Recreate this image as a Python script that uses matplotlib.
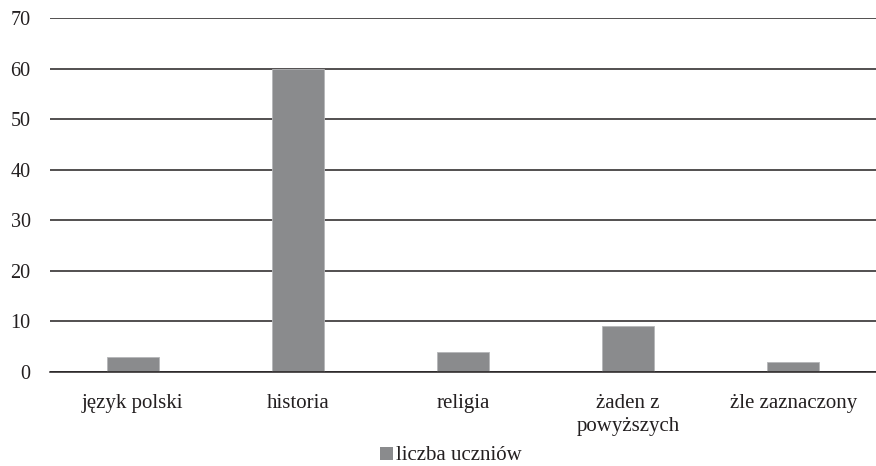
import matplotlib
matplotlib.use("Agg")
import matplotlib.pyplot as plt
from matplotlib.patches import Patch

categories = ["język polski", "historia", "religia", "żaden z\npowyższych", "żle zaznaczony"]
values = [3, 60, 4, 9, 2]
series_name = "liczba uczniów"
yticks = [0, 10, 20, 30, 40, 50, 60, 70]

plt.rcParams["font.family"] = ["Liberation Serif", "DejaVu Serif"]

fig = plt.figure(figsize=(8.76, 4.66), dpi=100)
ax = fig.add_axes([50 / 876, 1 - 372 / 466, 826 / 876, 354 / 466])

bar_color = "#8a8b8d"
x = list(range(len(categories)))
ax.bar(x, values, width=0.315, color=bar_color, edgecolor="#b5b6b8", linewidth=0.6, zorder=3)

ax.set_xlim(-0.5, len(categories) - 0.5)
ax.set_ylim(0, 70)
ax.set_yticks(yticks)
ax.set_yticklabels([str(v) for v in yticks], fontsize=14.5, color="#231f20")
ax.set_xticks(x)
ax.set_xticklabels(categories, fontsize=15, color="#231f20", linespacing=1.35, va="top")
ax.tick_params(axis="both", length=0)
ax.tick_params(axis="x", pad=15.5)
ax.tick_params(axis="y", pad=14)

ax.yaxis.grid(True, color="#231f20", linewidth=1.1, zorder=0)
ax.set_axisbelow(True)
for s in ["top", "right", "left"]:
    ax.spines[s].set_visible(False)
ax.spines["bottom"].set_color("#231f20")
ax.spines["bottom"].set_linewidth(1.1)
ax.spines["bottom"].set_zorder(4)

handle = Patch(facecolor=bar_color, edgecolor="none")
fig.legend([handle], [series_name], loc="center", bbox_to_anchor=(0.515, 1 - 456 / 466),
           frameon=False, fontsize=15, handlelength=0.6, handleheight=0.6,
           handletextpad=0.15, labelcolor="#231f20", borderpad=0, borderaxespad=0)

fig.savefig("out.png", dpi=100)
